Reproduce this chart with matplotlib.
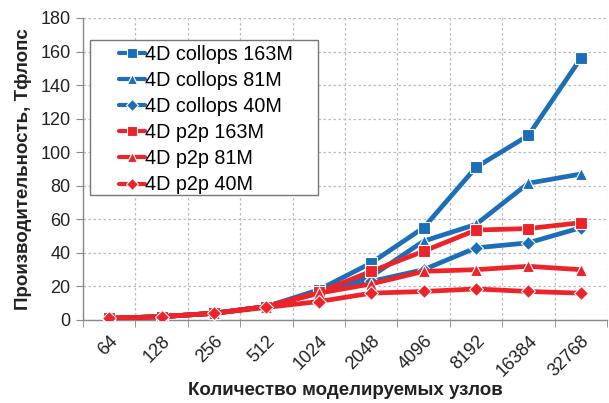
import matplotlib
matplotlib.use("Agg")
import matplotlib.pyplot as plt
import matplotlib.transforms as mtransforms
from matplotlib.patches import Rectangle
import numpy as np

plt.rcParams['font.family'] = ['Liberation Sans', 'DejaVu Sans']

categories = ["64", "128", "256", "512", "1024", "2048", "4096", "8192", "16384", "32768"]
collops_163 = [1, 2, 4, 8, 18, 34, 55, 91, 110, 156]
collops_81 = [1, 2, 4, 8, 17, 26, 47, 57, 81.5, 87]
collops_40 = [1, 2, 4, 8, 16, 23, 30, 43, 46, 55]
p2p_163 = [1, 2, 4, 8, 16.5, 29, 41, 53.6, 54.5, 58]
p2p_81 = [1, 2, 4, 8, 16, 21.5, 29, 30, 32, 30]
p2p_40 = [1, 2, 4, 7.5, 11, 16, 17, 18.5, 17, 16]

labels = ["4D collops 163M", "4D collops 81M", "4D collops 40M",
          "4D p2p 163M", "4D p2p 81M", "4D p2p 40M"]

blue = "#1B6EB7"
red = "#EE2229"

W, H = 609, 403
fig = plt.figure(figsize=(W / 100, H / 100), dpi=100)
ax_l, ax_b, ax_w, ax_h = 83, 83, 524, 302
ax = fig.add_axes([ax_l / W, ax_b / H, ax_w / W, ax_h / H])

def px2ax(px, py):
    return (px - ax_l) / ax_w, ((H - py) - ax_b) / ax_h

x = np.arange(len(categories))
series = [
    (collops_163, blue, 's', 8),
    (collops_81, blue, '^', 9),
    (collops_40, blue, 'D', 7),
    (p2p_163, red, 's', 8),
    (p2p_81, red, '^', 9),
    (p2p_40, red, 'D', 7),
]
for (vals, c, m, ms), lab in zip(series, labels):
    ax.plot(x, vals, color=c, lw=3.4, marker=m, ms=ms, mec='white', mew=0.8,
            label=lab, solid_capstyle='round', zorder=3)

ax.set_xlim(-0.5, len(categories) - 0.5)
ax.set_ylim(0, 180)
ax.set_yticks(np.arange(0, 181, 20))
ax.set_xticks(x)
ax.set_xticklabels(categories, rotation=45, ha='right', rotation_mode='anchor', fontsize=13, color='#222222')
offset = mtransforms.ScaledTranslation(-5 / 100, 0, fig.dpi_scale_trans)
for t in ax.get_xticklabels():
    t.set_transform(t.get_transform() + offset)
ax.set_xticks(np.arange(-0.5, len(categories) - 0.5 + 0.01, 1), minor=True)
ax.tick_params(axis='x', which='major', length=0, pad=9)
ax.tick_params(axis='x', which='minor', length=5, color='#888888')
ax.tick_params(axis='y', labelsize=13, length=5, color='#888888', labelcolor='#222222', pad=4)

ax.grid(True, which='minor', axis='x', linestyle=(0, (2, 2)), color='#BBBBBB', lw=0.9)
ax.grid(True, which='major', axis='y', linestyle=(0, (2, 2)), color='#BBBBBB', lw=0.9)
ax.set_axisbelow(True)

for s in ['top', 'right']:
    ax.spines[s].set_visible(False)
for s in ['left', 'bottom']:
    ax.spines[s].set_color('#888888')
    ax.spines[s].set_linewidth(1.0)

ax.set_xlabel("Количество моделируемых узлов", fontsize=13.5, fontweight='bold', color='#222222', va='top')
ax.xaxis.set_label_coords(0.5, px2ax(0, 382)[1])
ax.set_ylabel("Производительность, Тфлопс", fontsize=13.5, fontweight='bold', color='#222222', labelpad=6)

# legend frame
x0, y0 = px2ax(90, 195)
x1, y1 = px2ax(318, 40)
ax.add_patch(Rectangle((x0, y0), x1 - x0, y1 - y0, transform=ax.transAxes,
                       facecolor='white', edgecolor='#777777', lw=1.0, zorder=4))

lx, ly = px2ax(119, 45)
leg = ax.legend(loc='upper left', bbox_to_anchor=(lx, ly),
                fontsize=14.2, frameon=False, handlelength=1.3,
                handletextpad=0.0, labelspacing=0.36, borderpad=0.0, borderaxespad=0)
leg.set_zorder(5)
for h in leg.legend_handles:
    h.set_markersize(6.5)
    h.set_linewidth(3)

fig.savefig("out.png", dpi=100)
